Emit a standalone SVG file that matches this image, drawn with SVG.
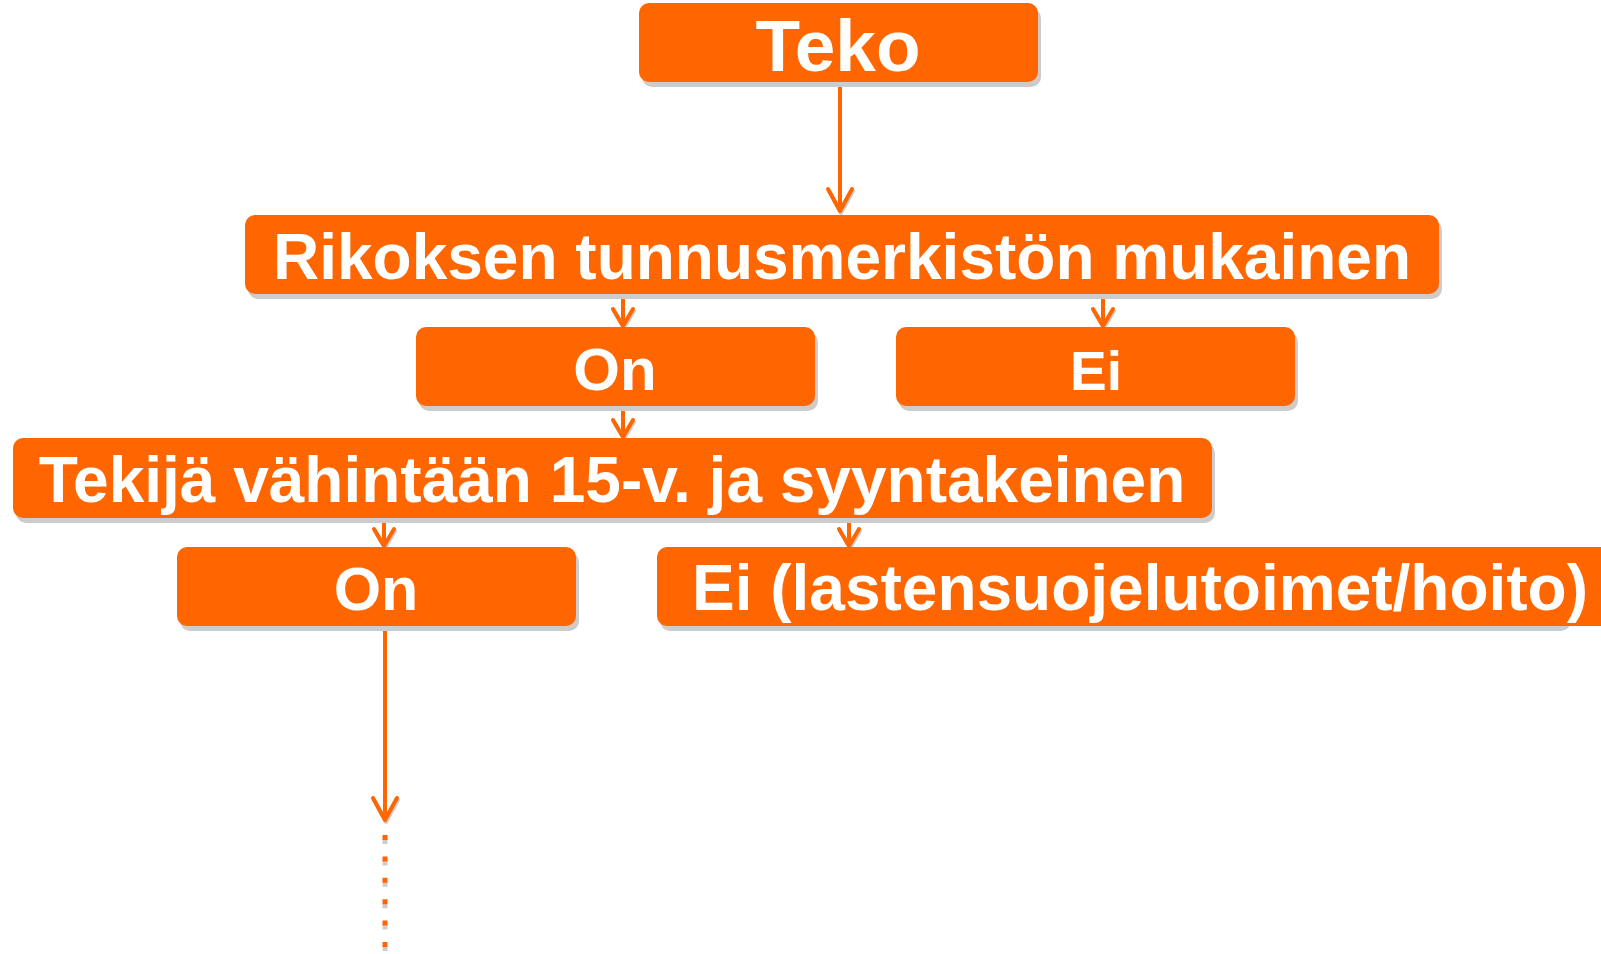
<svg xmlns="http://www.w3.org/2000/svg" width="1601" height="954" viewBox="0 0 1601 954">
<defs>
<style>
.box{fill:#FF6600}
.sh{fill:#cccccc}
.t{fill:#fff;font-family:"Liberation Sans",Arial,sans-serif;font-weight:bold;text-anchor:middle}
.ln{stroke:#FF6600;stroke-width:4;fill:none}
.hd{stroke:#FF6600;stroke-width:4;fill:none;stroke-linecap:round;stroke-linejoin:round}
.hs{stroke:#cccccc;stroke-width:4;fill:none;stroke-linecap:round;stroke-linejoin:round}
</style>
</defs>
<rect width="1601" height="954" fill="#fff"/>
<g id="connectors">
<line class="ln" x1="840" y1="82" x2="840" y2="212"/>
<path class="hs" d="M829,191 L841,213 L853,191"/>
<path class="hd" d="M828,189 L840,211 L852,189"/>
<line class="ln" x1="623" y1="294" x2="623" y2="326"/>
<path class="hs" d="M614,311 L624,328 L634,311"/>
<path class="hd" d="M613,309 L623,326 L633,309"/>
<line class="ln" x1="1103" y1="294" x2="1103" y2="326"/>
<path class="hs" d="M1094,311 L1104,328 L1114,311"/>
<path class="hd" d="M1093,309 L1103,326 L1113,309"/>
<line class="ln" x1="623" y1="406" x2="623" y2="437"/>
<path class="hs" d="M614,422 L624,439 L634,422"/>
<path class="hd" d="M613,420 L623,437 L633,420"/>
<line class="ln" x1="384" y1="518" x2="384" y2="546"/>
<path class="hs" d="M375,531 L385,548 L395,531"/>
<path class="hd" d="M374,529 L384,546 L394,529"/>
<line class="ln" x1="849" y1="518" x2="849" y2="546"/>
<path class="hs" d="M840,531 L850,548 L860,531"/>
<path class="hd" d="M839,529 L849,546 L859,529"/>
<line class="ln" x1="385" y1="626" x2="385" y2="818"/>
<path class="hs" d="M374,800 L386,822 L398,800"/>
<path class="hd" d="M373,798 L385,820 L397,798"/>
<line x1="385" y1="839" x2="385" y2="954" stroke="#cccccc" stroke-width="5" stroke-dasharray="5 16.4"/>
<line x1="385" y1="835" x2="385" y2="950" stroke="#FF6600" stroke-width="5" stroke-dasharray="5 16.4"/>
</g>
<g id="n-teko">
<rect class="sh" x="642" y="8" width="399" height="79" rx="10"/>
<rect class="box" x="639" y="3" width="399" height="79" rx="10"/>
<text class="t" x="838" y="71" font-size="73">Teko</text>
</g>
<g id="n-rikos">
<rect class="sh" x="248" y="220" width="1194" height="79" rx="10"/>
<rect class="box" x="245" y="215" width="1194" height="79" rx="10"/>
<text class="t" x="842" y="279" font-size="64">Rikoksen tunnusmerkistön mukainen</text>
</g>
<g id="n-on1">
<rect class="sh" x="419" y="332" width="399" height="79" rx="10"/>
<rect class="box" x="416" y="327" width="399" height="79" rx="10"/>
<text class="t" x="615" y="390" font-size="60">On</text>
</g>
<g id="n-ei1">
<rect class="sh" x="899" y="332" width="399" height="79" rx="10"/>
<rect class="box" x="896" y="327" width="399" height="79" rx="10"/>
<text class="t" x="1096" y="390" font-size="55">Ei</text>
</g>
<g id="n-tekija">
<rect class="sh" x="16" y="443" width="1199" height="80" rx="10"/>
<rect class="box" x="13" y="438" width="1199" height="80" rx="10"/>
<text class="t" x="612" y="502" font-size="64">Tekijä vähintään 15-v. ja syyntakeinen</text>
</g>
<g id="n-on2">
<rect class="sh" x="180" y="552" width="399" height="79" rx="10"/>
<rect class="box" x="177" y="547" width="399" height="79" rx="10"/>
<text class="t" x="376" y="610" font-size="61">On</text>
</g>
<g id="n-ei2">
<rect class="sh" x="660" y="552" width="911" height="79" rx="10"/>
<rect class="box" x="657" y="547" width="990" height="79" rx="10"/>
<text class="t" x="1140" y="610" font-size="64">Ei (lastensuojelutoimet/hoito)</text>
</g>
</svg>
